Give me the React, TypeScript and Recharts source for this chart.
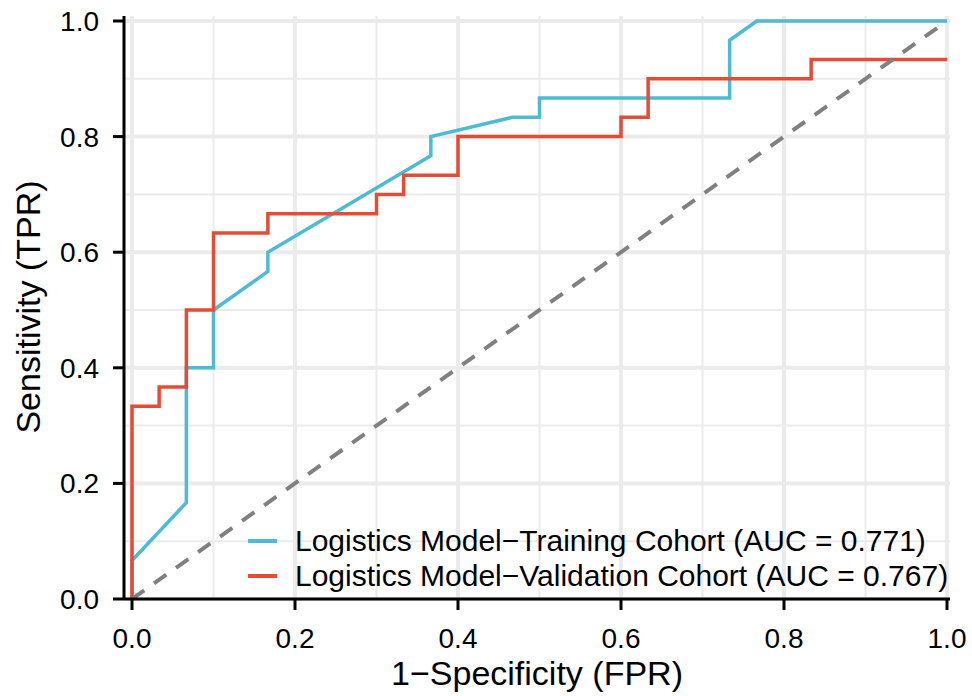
import React from 'react';
import { LineChart, Line, XAxis, YAxis, CartesianGrid, Legend, Label } from 'recharts';

// ROC points (step curves with a few tied segments)
const trainFPR = [0, 0, 0.0667, 0.0667, 0.1, 0.1, 0.1667, 0.1667, 0.3667, 0.3667, 0.4667, 0.5, 0.5, 0.7333, 0.7333, 0.7667, 1];
const trainTPR = [0, 0.0667, 0.1667, 0.4, 0.4, 0.5, 0.5667, 0.6, 0.7667, 0.8, 0.8333, 0.8333, 0.8667, 0.8667, 0.9667, 1, 1];

const validFPR = [0, 0, 0.0333, 0.0333, 0.0667, 0.0667, 0.1, 0.1, 0.1667, 0.1667, 0.3, 0.3, 0.3333, 0.3333, 0.4, 0.4, 0.6, 0.6, 0.6333, 0.6333, 0.8333, 0.8333, 1];
const validTPR = [0, 0.3333, 0.3333, 0.3667, 0.3667, 0.5, 0.5, 0.6333, 0.6333, 0.6667, 0.6667, 0.7, 0.7, 0.7333, 0.7333, 0.8, 0.8, 0.8333, 0.8333, 0.9, 0.9, 0.9333, 0.9333];

const refX = [0, 1];
const refY = [0, 1];

const majorTicks = [0, 0.2, 0.4, 0.6, 0.8, 1];
const minorTicks = [0.1, 0.3, 0.5, 0.7, 0.9];

const seriesNames = [
  'Logistics Model\u2212Training Cohort (AUC = 0.771)',
  'Logistics Model\u2212Validation Cohort (AUC = 0.767)',
];
const seriesColors = ['#4DBBD5', '#E64B35'];

const zip = (xs: number[], ys: number[]) => xs.map((x, i) => ({ x, y: ys[i] }));

const trainData = zip(trainFPR, trainTPR);
const validData = zip(validFPR, validTPR);
const refData = zip(refX, refY);

const FONT = '"Liberation Sans", Arial, Helvetica, sans-serif';
const xDomain = [-0.00982, 1.00368];
const yDomain = [0, 1.00865];

const RocLegend = () => (
  <div style={{ fontFamily: FONT, fontSize: 30, color: '#000' }}>
    {seriesNames.map((name, i) => (
      <div key={name} style={{ display: 'flex', alignItems: 'center', height: 35, lineHeight: '35px', whiteSpace: 'nowrap' }}>
        <div style={{ width: 29, height: 4, background: seriesColors[i], marginRight: 18 }} />
        <span>{name}</span>
      </div>
    ))}
  </div>
);

const YTitle = () => (
  <text
    x={40}
    y={307}
    transform="rotate(-90 40 307)"
    textAnchor="middle"
    fontFamily={FONT}
    fontSize={34}
    fill="#000"
  >
    Sensitivity (TPR)
  </text>
);

export default function App() {
  const tickStyle = { fontFamily: FONT, fontSize: 28, fill: '#000' };
  return (
    <div style={{ position: 'absolute', left: 0, top: 0, background: '#fff' }}>
      <LineChart width={972} height={696} margin={{ top: 16, right: 22, bottom: 0, left: 0 }}>
        <CartesianGrid stroke="#EBEBEB" strokeWidth={2} verticalValues={minorTicks} horizontalValues={minorTicks} />
        <CartesianGrid stroke="#EBEBEB" strokeWidth={4} verticalValues={majorTicks} horizontalValues={majorTicks} />
        <XAxis
          type="number"
          dataKey="x"
          domain={xDomain}
          allowDataOverflow
          ticks={majorTicks}
          interval={0}
          tickFormatter={(v: number) => v.toFixed(1)}
          height={97}
          tickSize={11}
          tickMargin={18}
          tick={tickStyle}
          axisLine={{ stroke: '#000', strokeWidth: 3 }}
          tickLine={{ stroke: '#000', strokeWidth: 3 }}
        >
          <Label
            value={'1\u2212Specificity (FPR)'}
            position="insideBottom"
            offset={11}
            style={{ fontFamily: FONT, fontSize: 34, fill: '#000' }}
          />
        </XAxis>
        <YAxis
          type="number"
          domain={yDomain}
          allowDataOverflow
          ticks={majorTicks}
          interval={0}
          tickFormatter={(v: number) => v.toFixed(1)}
          width={124}
          tickSize={11}
          tickMargin={14}
          tick={tickStyle}
          axisLine={{ stroke: '#000', strokeWidth: 3 }}
          tickLine={{ stroke: '#000', strokeWidth: 3 }}
        >
          <Label content={() => <YTitle />} />
        </YAxis>
        {/* top and right panel border */}
        <XAxis xAxisId="top" orientation="top" type="number" domain={xDomain} allowDataOverflow height={0} tick={false} tickLine={false} axisLine={{ stroke: '#000', strokeWidth: 3 }} />
        <YAxis yAxisId="right" orientation="right" type="number" domain={yDomain} allowDataOverflow width={0} tick={false} tickLine={false} axisLine={{ stroke: '#000', strokeWidth: 3 }} />
        <Line data={trainData} dataKey="y" name={seriesNames[0]} type="linear" stroke={seriesColors[0]} strokeWidth={3.5} dot={false} activeDot={false} isAnimationActive={false} />
        <Line data={validData} dataKey="y" name={seriesNames[1]} type="linear" stroke={seriesColors[1]} strokeWidth={3.5} dot={false} activeDot={false} isAnimationActive={false} />
        <Line data={refData} dataKey="y" legendType="none" type="linear" stroke="#808080" strokeWidth={4} strokeDasharray="15 12" dot={false} activeDot={false} isAnimationActive={false} />
        <Legend
          layout="vertical"
          align="center"
          verticalAlign="middle"
          content={() => <RocLegend />}
          wrapperStyle={{ left: 248, top: 523, width: 'auto', height: 'auto' }}
        />
      </LineChart>
    </div>
  );
}
